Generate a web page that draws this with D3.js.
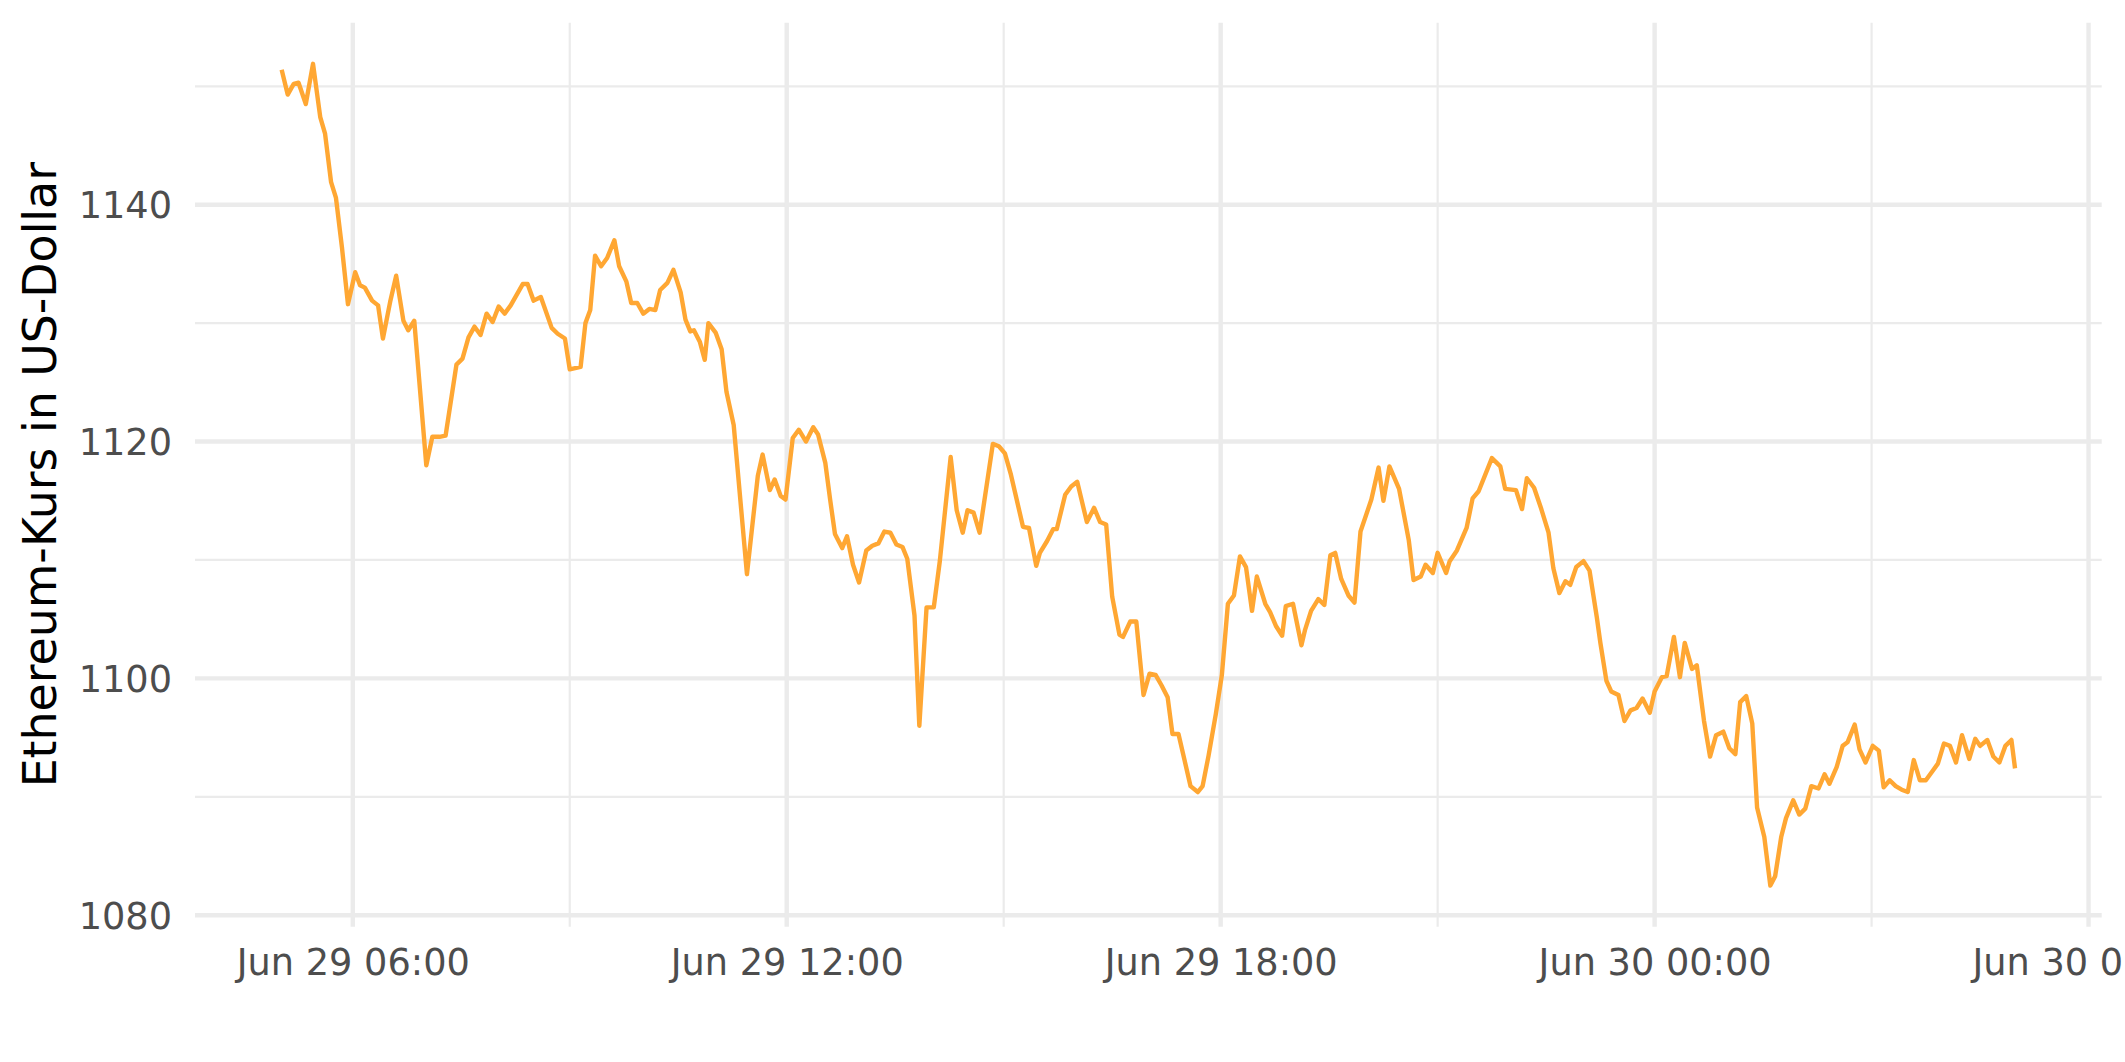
<!DOCTYPE html>
<html>
<head>
<meta charset="utf-8">
<script src="https://cdn.jsdelivr.net/npm/d3@7/dist/d3.min.js"></script>
<style>
  html, body { margin: 0; padding: 0; background: #ffffff; }
  svg { display: block; }
</style>
</head>
<body>
<svg id="chart" width="2125" height="1062"></svg>
<script>
// ---- data ----
// minutes after 2022-06-29 00:00 (local time)
const minutes = [
  301,306,311,315,321,327,333,337,342,346,
  351,356,362,366,370,376,381,385,391,396,
  402,406,411,421,426,432,437,446,451,456,
  461,466,471,476,481,486,491,501,505,510,
  516,525,530,536,540,549,553,557,561,566,
  571,577,581,587,591,596,601,606,611,615,
  621,626,632,636,640,643,648,652,655,661,
  666,670,676,687,696,700,706,710,715,719,
  725,730,736,742,746,752,756,760,766,770,
  775,780,786,791,796,801,806,811,816,820,
  826,830,836,842,847,856,861,866,870,875,
  880,891,896,901,906,916,921,927,930,936,
  941,944,951,956,961,969,975,980,985,990,
  996,999,1005,1010,1016,1021,1026,1031,1036,1040,
  1045,1050,1055,1061,1065,1070,1076,1081,1086,1091,
  1096,1101,1106,1110,1117,1121,1126,1131,1134,1140,
  1147,1150,1155,1161,1166,1171,1175,1180,1186,1191,
  1196,1205,1211,1215,1220,1228,1236,1240,1246,1250,
  1256,1260,1267,1270,1276,1284,1289,1294,1305,1312,
  1316,1325,1330,1334,1340,1346,1352,1356,1361,1366,
  1370,1375,1381,1386,1392,
  1395,1400,1404,1410,1415,1420,1425,1430,1436,1440,
  1446,1450,1456,1461,1465,1471,1475,1481,1486,1491,
  1497,1502,1507,1511,1516,1521,1525,1531,1536,1540,
  1545,1549,1555,1560,1565,1570,1576,1581,1585,1591,
  1596,1600,1606,1610,1615,1621,1626,1630,1635,1640,
  1645,1650,1655,1660,1665,1670,1675,1680,1685,1690,
  1695,1701,1706,1710,1716,1721,1726,1731,1736,1739
];
// ETH price in USD
const prices = [
  1151.4,1149.3,1150.2,1150.3,1148.5,1151.9,1147.4,1146.0,1141.9,1140.6,
  1136.4,1131.6,1134.3,1133.2,1133.0,1131.9,1131.5,1128.7,1131.8,1134.0,
  1130.2,1129.4,1130.2,1118.0,1120.4,1120.4,1120.5,1126.5,1127.0,1128.8,
  1129.7,1129.0,1130.8,1130.1,1131.4,1130.8,1131.5,1133.3,1133.3,1131.9,
  1132.2,1129.6,1129.1,1128.7,1126.1,1126.3,1130.0,1131.1,1135.7,1134.8,
  1135.5,1137.0,1134.8,1133.5,1131.7,1131.7,1130.8,1131.2,1131.1,1132.8,
  1133.4,1134.5,1132.6,1130.3,1129.3,1129.4,1128.4,1126.9,1130.0,1129.2,
  1127.8,1124.2,1121.4,1108.8,1117.1,1118.9,1115.9,1116.8,1115.4,1115.1,
  1120.3,1121.0,1120.0,1121.2,1120.6,1118.2,1115.1,1112.2,1111.0,1112.0,
  1109.6,1108.1,1110.8,1111.2,1111.4,1112.4,1112.3,1111.3,1111.1,1110.1,
  1105.3,1096.0,1106.0,1106.0,1109.9,1118.7,1114.2,1112.3,1114.2,1114.0,
  1112.3,1119.8,1119.6,1119.0,1117.2,1112.8,1112.7,1109.5,1110.6,1111.6,
  1112.6,1112.6,1115.5,1116.2,1116.6,1113.2,1114.4,1113.2,1113.0,1106.9,
  1103.7,1103.5,1104.8,1104.8,1098.6,1100.4,1100.3,1099.4,1098.4,1095.3,
  1095.3,1093.1,1090.9,1090.4,1090.9,1093.5,1097.0,1100.3,1106.3,1107.0,
  1110.3,1109.4,1105.7,1108.6,1106.3,1105.6,1104.4,1103.6,1106.1,1106.3,
  1102.8,1104.1,1105.7,1106.7,1106.2,1110.4,1110.6,1108.4,1107.0,1106.4,
  1112.4,1115.1,1117.8,1115.0,1117.9,1116.0,1111.7,1108.3,1108.6,1109.6,
  1108.9,1110.6,1108.9,1109.9,1110.8,1112.7,1115.2,1115.8,1118.6,1117.9,
  1116.0,1115.9,1114.3,1116.9,1116.1,1114.3,1112.3,1109.3,1107.2,1108.2,
  1107.9,1109.4,1109.9,1109.1,1105.2,
  1103.0,1099.8,1098.9,1098.6,1096.4,1097.3,1097.5,1098.3,1097.1,1098.9,
  1100.1,1100.2,1103.5,1100.1,1103.0,1100.8,1101.1,1096.4,1093.4,1095.2,
  1095.5,1094.1,1093.6,1098.0,1098.5,1096.2,1089.1,1086.6,1082.5,1083.3,
  1086.6,1088.2,1089.7,1088.5,1089.0,1090.9,1090.7,1091.9,1091.1,1092.5,
  1094.3,1094.6,1096.1,1094.0,1092.9,1094.3,1093.9,1090.8,1091.4,1090.9,
  1090.6,1090.4,1093.1,1091.4,1091.4,1092.1,1092.8,1094.5,1094.3,1092.9,
  1095.2,1093.2,1094.9,1094.3,1094.8,1093.4,1092.9,1094.3,1094.8,1092.4
];
// axis ticks
const xMajorTicks = ["2022-06-29T06:00","2022-06-29T12:00","2022-06-29T18:00","2022-06-30T00:00","2022-06-30T06:00"];
const xMinorTicks = ["2022-06-29T03:00","2022-06-29T09:00","2022-06-29T15:00","2022-06-29T21:00","2022-06-30T03:00"];
const yMajorTicks = [1080, 1100, 1120, 1140];
const yMinorTicks = [1090, 1110, 1130, 1150];
const yTitle = "Ethereum-Kurs in US-Dollar";

// ---- build ----
const parseT = d3.timeParse("%Y-%m-%dT%H:%M");
const t0 = new Date(2022, 5, 29, 0, 0);
const n = Math.min(minutes.length, prices.length);
const data = d3.range(n).map(i => ({ t: d3.timeMinute.offset(t0, minutes[i]), v: prices[i] }));

const W = 2125, H = 1062;
const panel = { left: 195, right: 2101.7, top: 22.7, bottom: 926.7 };

const tExt = d3.extent(data, d => d.t);
const tPad = (tExt[1] - tExt[0]) * 0.05;
const vExt = d3.extent(data, d => d.v);
const vPad = (vExt[1] - vExt[0]) * 0.05;

const x = d3.scaleTime()
  .domain([new Date(+tExt[0] - tPad), new Date(+tExt[1] + tPad)])
  .range([panel.left, panel.right]);
const y = d3.scaleLinear()
  .domain([vExt[0] - vPad, vExt[1] + vPad])
  .range([panel.bottom, panel.top]);

const svg = d3.select("#chart");
svg.append("rect").attr("width", W).attr("height", H).attr("fill", "#ffffff");

const grid = svg.append("g").attr("class", "grid");
const xMinor = xMinorTicks.map(parseT).filter(d => x(d) >= panel.left && x(d) <= panel.right);
const xMajor = xMajorTicks.map(parseT);

// minor grid
grid.selectAll("line.ymin").data(yMinorTicks).join("line")
  .attr("x1", panel.left).attr("x2", panel.right)
  .attr("y1", d => y(d)).attr("y2", d => y(d))
  .attr("stroke", "#EBEBEB").attr("stroke-width", 2.2);
grid.selectAll("line.xmin").data(xMinor).join("line")
  .attr("y1", panel.top).attr("y2", panel.bottom)
  .attr("x1", d => x(d)).attr("x2", d => x(d))
  .attr("stroke", "#EBEBEB").attr("stroke-width", 2.2);
// major grid
grid.selectAll("line.ymaj").data(yMajorTicks).join("line")
  .attr("x1", panel.left).attr("x2", panel.right)
  .attr("y1", d => y(d)).attr("y2", d => y(d))
  .attr("stroke", "#EBEBEB").attr("stroke-width", 4.4);
grid.selectAll("line.xmaj").data(xMajor).join("line")
  .attr("y1", panel.top).attr("y2", panel.bottom)
  .attr("x1", d => x(d)).attr("x2", d => x(d))
  .attr("stroke", "#EBEBEB").attr("stroke-width", 4.4);

// line
const line = d3.line().x(d => x(d.t)).y(d => y(d.v));
svg.append("path").datum(data)
  .attr("d", line)
  .attr("fill", "none")
  .attr("stroke", "#FFA733")
  .attr("stroke-width", 4.4)
  .attr("stroke-linejoin", "round")
  .attr("stroke-linecap", "butt");

// axes (labels only)
const fmt = d3.timeFormat("%b %d %H:%M");
const xAxis = d3.axisBottom(x).tickValues(xMajor).tickFormat(fmt).tickSize(0).tickPadding(22.3);
const gx = svg.append("g").attr("transform", `translate(0,${panel.bottom})`).call(xAxis);
gx.select(".domain").remove();
gx.selectAll("text")
  .attr("font-family", "DejaVu Sans")
  .attr("font-size", 36.7)
  .attr("fill", "#4D4D4D");

const yAxis = d3.axisLeft(y).tickValues(yMajorTicks).tickFormat(d3.format("d")).tickSize(0).tickPadding(23);
const gy = svg.append("g").attr("transform", `translate(${panel.left},0)`).call(yAxis);
gy.select(".domain").remove();
gy.selectAll("text")
  .attr("font-family", "DejaVu Sans")
  .attr("font-size", 36.7)
  .attr("fill", "#4D4D4D")
  .attr("dy", "0.36em");

// y title
svg.append("text")
  .attr("transform", `translate(56,${(panel.top + panel.bottom) / 2}) rotate(-90)`)
  .attr("text-anchor", "middle")
  .attr("font-family", "DejaVu Sans")
  .attr("font-size", 45.8)
  .attr("fill", "#000000")
  .text(yTitle);
</script>
</body>
</html>
